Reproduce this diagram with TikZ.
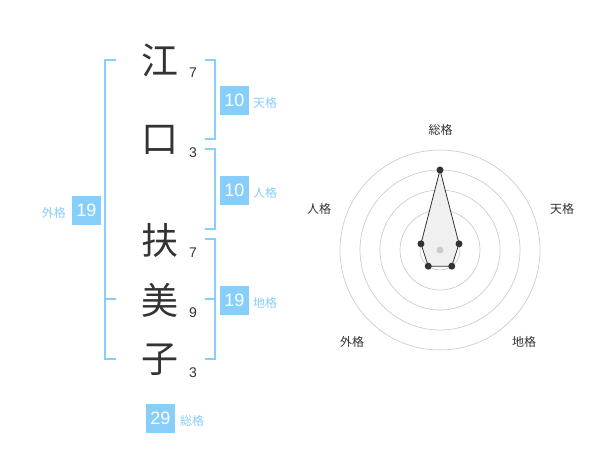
\documentclass[tikz,border=0pt]{standalone}
\usepackage{fontspec}
\usetikzlibrary{calc}
\setmainfont{Liberation Sans}
\newfontfamily\jp{Noto Sans CJK JP}
\definecolor{sky}{RGB}{135,206,250}
\definecolor{ink}{RGB}{51,51,51}
\definecolor{ring}{RGB}{204,204,204}
\begin{document}
\begin{tikzpicture}[x=1pt,y=-1pt,
  kanji/.style={font=\jp\fontsize{37}{37}\selectfont, text=ink, inner sep=0},
  strokes/.style={font=\fontsize{14}{14}\selectfont, text=ink, inner sep=0},
  scorebox/.style={fill=sky, text=white, minimum width=29, minimum height=29, inner sep=0, font=\fontsize{18}{18}\selectfont},
  scorelabel/.style={font=\jp\fontsize{12}{12}\selectfont, text=sky, inner sep=0},
  bracket/.style={draw=sky, line width=2},
  ringline/.style={draw=ring, line width=0.7},
  axislabel/.style={font=\jp\fontsize{12}{12}\selectfont, text=ink, inner sep=0},
  vertex/.style={circle, fill=ink, inner sep=0, minimum size=7},
]
\useasboundingbox (0,0) rectangle (600,470);
% characters
\node[kanji] (c1) at (160,60) {江};
\node[kanji] (c2) at (160,140) {口};
\node[kanji] (c3) at (160,240) {扶};
\node[kanji] (c4) at (160,300) {美};
\node[kanji] (c5) at (160,360) {子};
\node[strokes] (s1) at (193,73) {7};
\node[strokes] (s2) at (193,153) {3};
\node[strokes] (s3) at (193,253) {7};
\node[strokes] (s4) at (193,313) {9};
\node[strokes] (s5) at (193,373) {3};
% brackets
\coordinate (t1) at (205,60); \coordinate (t2) at (205,139);
\coordinate (j1) at (205,149); \coordinate (j2) at (205,229);
\coordinate (g1) at (205,239); \coordinate (g2) at (205,359); \coordinate (gm) at (205,299);
\coordinate (o1) at (116,60); \coordinate (o2) at (116,359); \coordinate (om) at (116,299);
\draw[bracket] (t1) -| (215,100) |- (t2);
\draw[bracket] (j1) -| (215,190) |- (j2);
\draw[bracket] (g1) -| (215,300) |- (g2);
\draw[bracket] (gm) -- (215,299);
\draw[bracket] (o1) -| (105,210) |- (o2);
\draw[bracket] (om) -- (105,299);
% score boxes
\node[scorebox] (ten) at (234.5,100.5) {10};
\node[scorelabel, anchor=west] (tenl) at (253,103) {天格};
\node[scorebox] (jin) at (234.5,190.5) {10};
\node[scorelabel, anchor=west] (jinl) at (253,193) {人格};
\node[scorebox] (chi) at (234.5,300.5) {19};
\node[scorelabel, anchor=west] (chil) at (253,303) {地格};
\node[scorebox] (gai) at (86.5,210.5) {19};
\node[scorelabel, anchor=east] (gail) at (66,213) {外格};
\node[scorebox] (sou) at (160.5,418.5) {29};
\node[scorelabel, anchor=west] (soul) at (180,421) {総格};
% radar
\coordinate (ctr) at (440,250);
\foreach \r in {20,40,60,80,100} \draw[ringline] (ctr) circle[radius=\r];
\coordinate (p1) at ($(ctr)+(0,-80)$);
\coordinate (p2) at ($(ctr)+(19.02,-6.18)$);
\coordinate (p3) at ($(ctr)+(11.76,16.18)$);
\coordinate (p4) at ($(ctr)+(-11.76,16.18)$);
\coordinate (p5) at ($(ctr)+(-19.02,-6.18)$);
\draw[ink, fill=black!6, line width=0.8] (p1) -- (p2) -- (p3) -- (p4) -- (p5) -- cycle;
\fill[ring] (ctr) circle[radius=3.5];
\foreach \p in {p1,p2,p3,p4,p5} \node[vertex] at (\p) {};
\node[axislabel] (a1) at (440.7,130) {総格};
\node[axislabel] (a2) at (562,209) {天格};
\node[axislabel] (a3) at (524,342) {地格};
\node[axislabel] (a4) at (352,342) {外格};
\node[axislabel] (a5) at (319,209) {人格};
\end{tikzpicture}
\end{document}
